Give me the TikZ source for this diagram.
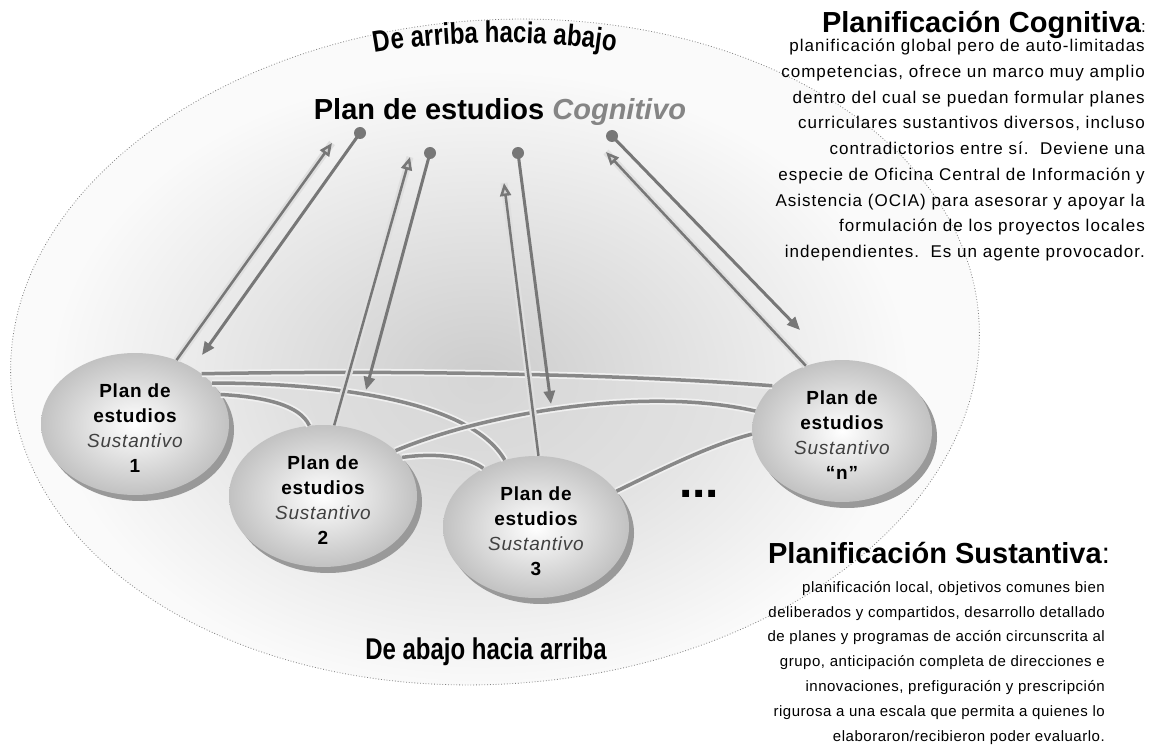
\documentclass[tikz,border=0pt]{standalone}
\usepackage{fontspec}
\setmainfont{Liberation Sans}
\newfontfamily\nodefont{Liberation Sans}[LetterSpace=4]
\newfontfamily\txtfont{Liberation Sans}[LetterSpace=6]
\newfontfamily\txtfontb{Liberation Sans}[LetterSpace=3.5]
\newfontfamily\warpfont{Liberation Sans}[FakeStretch=0.8]
\usetikzlibrary{arrows.meta,shapes.geometric,shadows,decorations.text}
\pgfdeclarelayer{bg}
\pgfsetlayers{bg,main}
\definecolor{arrgray}{HTML}{777777}
\definecolor{curvegray}{HTML}{888888}
\definecolor{sustgray}{HTML}{404040}
\definecolor{coggray}{HTML}{858585}
\newcommand{\sphtext}[1]{\raisebox{-6pt}[\height][\depth]{\begin{tabular}{@{}c@{}}#1\end{tabular}}}
\begin{document}
\begin{tikzpicture}[x=1pt,y=-1pt,
  sphere/.style={ellipse, minimum width=188pt, minimum height=142pt, inner sep=0pt,
    inner color=white, outer color=gray!48,
    drop shadow={shadow xshift=5pt, shadow yshift=-6pt, fill=gray!80, opacity=1},
    font=\nodefont\bfseries\fontsize{19}{25}\selectfont},
  dot/.style={circle, fill=arrgray, minimum size=12pt, inner sep=0pt},
  darr/.style={draw=arrgray, line width=3pt, -{Triangle[length=13pt,width=11pt]}},
  uparr/.style={draw=arrgray, line width=2.5pt, -{Triangle[length=13pt,width=11pt,fill=gray!35]},
    preaction={draw=gray!25, line width=7pt, -}},
  curve/.style={draw=curvegray, line width=3.5pt, preaction={draw=gray!12, line width=7pt}},
  body/.style={inner sep=0pt, align=right, anchor=north east},
  head/.style={font=\bfseries\fontsize{29}{29}\selectfont, anchor=base east, inner sep=0pt},
  warp/.style={font=\warpfont\bfseries\fontsize{30}{30}\selectfont}
]
\useasboundingbox (0,0) rectangle (1156,751);

% spheres
\node[sphere] (n1) at (135,424) {\sphtext{Plan de\\estudios\\{\mdseries\itshape\color{sustgray}Sustantivo}\\1}};
\node[sphere] (n2) at (323,496) {\sphtext{Plan de\\estudios\\{\mdseries\itshape\color{sustgray}Sustantivo}\\2}};
\node[sphere, minimum width=186pt] (n3) at (536,527) {\sphtext{Plan de\\estudios\\{\mdseries\itshape\color{sustgray}Sustantivo}\\3}};
\node[sphere, minimum width=180pt] (nn) at (842,431) {\sphtext{Plan de\\estudios\\{\mdseries\itshape\color{sustgray}Sustantivo}\\“n”}};

% background
\begin{pgfonlayer}{bg}
  \fill[white] (0,0) rectangle (1156,751);
  \begin{scope}
    \clip[rotate around={4:(495,352)}] (495,352) ellipse [x radius=485, y radius=332];
    \fill[gray!4] (0,0) rectangle (1156,751);
    \shade[inner color=gray!40, outer color=gray!4] (480,380) ellipse [x radius=430, y radius=310];
  \end{scope}
  \draw[gray, dotted, line width=0.8pt, rotate around={4:(495,352)}] (495,352) ellipse [x radius=485, y radius=332];
  \fill[gray!25, opacity=0.55] (n1.37) .. controls (400,370) and (620,374) .. (nn.147) -- (nn.182)
     .. controls (710,445) and (660,470) .. (n3.24) -- (n3.132)
     .. controls (470,458) and (440,452) .. (n2.26) -- (n2.101)
     .. controls (300,405) and (265,397) .. (n1.19) -- cycle;
\end{pgfonlayer}

% curves between spheres
\draw[curve] (n1.37) .. controls (400,370) and (620,374) .. (nn.147);
\draw[curve] (n1.28) .. controls (330,383) and (470,400) .. (n3.115);
\draw[curve] (n1.19) .. controls (265,397) and (300,405) .. (n2.101);
\draw[curve] (n2.32) .. controls (480,415) and (640,385) .. (nn.167);
\draw[curve] (n2.26) .. controls (440,452) and (470,458) .. (n3.132);
\draw[curve] (n3.24) .. controls (660,470) and (710,445) .. (nn.182);

% top dots and arrow ends
\node[dot] (d1) at (360,133) {};
\node[dot] (d2) at (430,153) {};
\node[dot] (d3) at (518,153) {};
\node[dot] (d4) at (612,136) {};
\coordinate (t1) at (202,355);
\coordinate (t2) at (366,390);
\coordinate (t3) at (551,404);
\coordinate (t4) at (800,330);
\coordinate (u1) at (332,143);
\coordinate (u2) at (410,157);
\coordinate (u3) at (504,183);
\coordinate (u4) at (606,152);

\draw[uparr] (n1.57) -- (u1);
\draw[uparr] (n2.81) -- (u2);
\draw[uparr] (n3.88) -- (u3);
\draw[uparr] (nn.119) -- (u4);
\draw[darr] (d1.center) -- (t1);
\draw[darr] (d2.center) -- (t2);
\draw[darr] (d3.center) -- (t3);
\draw[darr] (d4.center) -- (t4);

% titles
\path[decorate, decoration={text along path, text align=center,
   text={|\warpfont\bfseries\fontsize{30}{30}\selectfont|De arriba hacia abajo}}]
   (350,58) .. controls (430,38) and (560,38) .. (640,56);
\node[warp, anchor=base, inner sep=0pt] (abajo) at (486,659) {De abajo hacia arriba};
\node[font=\bfseries\fontsize{29}{29}\selectfont, anchor=base, inner sep=0pt] (title) at (500,120)
   {Plan de estudios {\itshape\color{coggray}Cognitivo}};
\node[font=\bfseries\fontsize{48}{48}\selectfont, anchor=base, inner sep=0pt] (ell) at (699,497) {...};

% right texts
\node[head] (cogh) at (1146,33) {Planificación Cognitiva{\mdseries\fontsize{17}{17}\selectfont:}};
\node[body, font=\txtfont\fontsize{17}{25.75}\selectfont] (cogb) at (1145,39)
 {planificación global pero de auto-limitadas\\
  competencias, ofrece un marco muy amplio\\
  dentro del cual se puedan formular planes\\
  curriculares sustantivos diversos, incluso\\
  contradictorios entre sí.~~Deviene una\\
  especie de Oficina Central de Información y\\
  Asistencia (OCIA) para asesorar y apoyar la\\
  formulación de los proyectos locales\\
  independientes.~~Es un agente provocador.};
\node[head] (susth) at (1110,563) {Planificación Sustantiva{\mdseries:}};
\node[body, font=\txtfontb\fontsize{15}{24.8}\selectfont] (sustb) at (1105,581)
 {planificación local, objetivos comunes bien\\
  deliberados y compartidos, desarrollo detallado\\
  de planes y programas de acción circunscrita al\\
  grupo, anticipación completa de direcciones e\\
  innovaciones, prefiguración y prescripción\\
  rigurosa a una escala que permita a quienes lo\\
  elaboraron/recibieron poder evaluarlo.};
\end{tikzpicture}
\end{document}
